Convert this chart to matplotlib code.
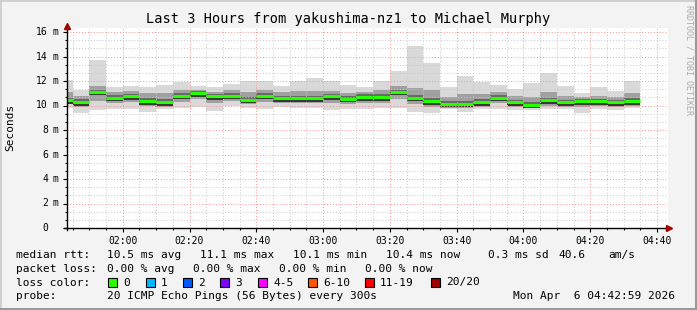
import matplotlib
matplotlib.use("Agg")
import matplotlib.pyplot as plt
import matplotlib.transforms as mtransforms
from matplotlib.lines import Line2D
from matplotlib.patches import Rectangle
from matplotlib.ticker import MultipleLocator
import numpy as np

# ---- data (ms), one entry per 5 minute step, first step is partial ----
median = [10.45, 10.30, 11.12, 10.63, 10.74, 10.38, 10.30, 10.80, 10.98, 10.74,
          10.80, 10.47, 10.80, 10.60, 10.60, 10.60, 10.74, 10.55, 10.68, 10.68,
          11.12, 10.63, 10.38, 10.14, 10.14, 10.30, 10.63, 10.25, 10.08, 10.41,
          10.25, 10.36, 10.36, 10.25, 10.38]
smoke_max = [12.10, 11.30, 13.73, 11.50, 11.60, 11.55, 11.70, 11.90, 11.60, 11.50,
             11.77, 12.04, 11.96, 11.60, 12.04, 12.26, 12.04, 11.70, 11.47, 12.00,
             12.83, 14.87, 13.50, 11.50, 12.43, 11.90, 11.70, 11.34, 11.83, 12.64,
             11.60, 11.06, 11.53, 11.20, 11.96]
smoke_min = [9.80, 9.40, 9.60, 9.70, 9.75, 9.50, 9.70, 9.80, 9.90, 9.57,
             10.00, 9.80, 9.70, 9.90, 9.80, 9.80, 9.60, 9.70, 9.70, 9.80,
             9.80, 9.50, 9.40, 9.70, 9.50, 9.70, 9.70, 9.60, 9.60, 9.70,
             9.70, 9.40, 9.70, 9.60, 9.80]
smoke_p80 = [11.1, 10.8, 11.6, 11.1, 11.2, 11.0, 11.0, 11.3, 11.3, 11.1,
             11.3, 11.1, 11.3, 11.1, 11.2, 11.2, 11.2, 11.0, 11.1, 11.3,
             11.6, 11.4, 11.3, 10.7, 10.9, 10.9, 11.1, 10.8, 10.7, 11.1,
             10.8, 10.7, 10.8, 10.7, 11.0]
smoke_p20 = [10.1, 9.9, 10.4, 10.2, 10.3, 10.0, 9.9, 10.3, 10.5, 10.2,
             10.4, 10.1, 10.3, 10.2, 10.2, 10.2, 10.2, 10.1, 10.2, 10.2,
             10.5, 10.1, 9.9, 9.8, 9.8, 9.9, 10.2, 9.9, 9.8, 10.0,
             9.9, 9.9, 10.0, 9.9, 10.0]
smoke_p60 = [10.65, 10.50, 11.30, 10.85, 10.95, 10.60, 10.50, 11.00, 11.15, 10.95,
             11.00, 10.70, 11.00, 10.80, 10.80, 10.80, 10.95, 10.75, 10.90, 10.90,
             11.30, 10.85, 10.60, 10.35, 10.35, 10.50, 10.85, 10.45, 10.30, 10.60,
             10.45, 10.55, 10.55, 10.45, 10.60]
smoke_p40 = [10.30, 10.15, 10.90, 10.45, 10.55, 10.20, 10.15, 10.60, 10.80, 10.55,
             10.60, 10.30, 10.60, 10.40, 10.40, 10.40, 10.55, 10.35, 10.50, 10.50,
             10.90, 10.40, 10.15, 9.95, 9.95, 10.10, 10.45, 10.05, 9.90, 10.20,
             10.05, 10.15, 10.20, 10.05, 10.20]

time_labels = ["02:00", "02:20", "02:40", "03:00", "03:20", "03:40", "04:00", "04:20", "04:40"]
loss_names = ["0", "1", "2", "3", "4-5", "6-10", "11-19", "20/20"]
loss_colors = ["#26ff00", "#00b8ff", "#0059ff", "#7e00ff", "#ff00ff", "#ff5500", "#ff0000", "#a10000"]

W, H = 697, 310
MONO = "DejaVu Sans Mono"
plt.rcParams["font.family"] = MONO

fig = plt.figure(figsize=(W / 100, H / 100), dpi=100, facecolor="#f3f3f3")


def fx(px):
    return px / W


def fy(py):
    return 1 - py / H


# plot area 67..668 x 28..228 px
ax = fig.add_axes([fx(67), fy(228), fx(668) - fx(67), (228 - 28) / H])
ax.set_facecolor("white")
t0, t1 = 103.3, 283.3  # minutes since midnight
ax.set_xlim(t0, t1)
ax.set_ylim(0, 200 / 12.25)

# bar edges: first partial step, then 5 minute steps
n = len(median)
left = np.concatenate([[t0], 105 + 5 * np.arange(n - 1)])
right = np.concatenate([[105], 110 + 5 * np.arange(n - 1)])
width = right - left
med = np.array(median)

bands = [(smoke_min, smoke_max, "#d9d9d9"),
         (smoke_p20, smoke_p80, "#a0a0a0"),
         (smoke_p40, smoke_p60, "#686868")]
for lo, hi, col in bands:
    lo = np.array(lo)
    hi = np.array(hi)
    ax.bar(left, hi - lo, bottom=lo, width=width, align="edge", color=col,
           linewidth=0, zorder=1)
# darkest core just under the median
ax.bar(left, 0.3, bottom=med - 0.3, width=width, align="edge",
       color="#383838", linewidth=0, zorder=1.2)

ax.hlines(median, left, right, colors=loss_colors[0], linewidth=2.2, zorder=4)

# grid
ax.xaxis.set_major_locator(plt.FixedLocator(np.arange(120, 281, 20)))
ax.xaxis.set_minor_locator(MultipleLocator(5))
ax.yaxis.set_major_locator(MultipleLocator(2))
ax.yaxis.set_minor_locator(MultipleLocator(2 / 3))
ax.set_axisbelow(False)
ax.grid(which="minor", color="#c8c8c8", linestyle=(0, (1, 2)), linewidth=0.7, zorder=2)
ax.grid(which="major", color="#ff9090", linestyle=(0, (1, 2)), linewidth=0.7, zorder=2.5)

for s in ax.spines.values():
    s.set_visible(False)
ax.tick_params(which="both", direction="out", color="black", width=0.8)
ax.tick_params(which="major", length=3)
ax.tick_params(which="minor", length=1.5)
ax.set_xticklabels(time_labels, fontsize=7, family=MONO)
ax.tick_params(axis="x", pad=2.5)
ax.set_yticklabels([])

ytr = mtransforms.blended_transform_factory(fig.transFigure, ax.transData)
for v in range(0, 17, 2):
    ax.text(fx(48), v, str(v), transform=ytr, ha="right", va="center", fontsize=7)
    if v:
        ax.text(fx(53), v, "m", transform=ytr, ha="left", va="center", fontsize=7)

# axes lines with arrow heads
fig.add_artist(Line2D([fx(67), fx(67)], [fy(230), fy(26)], color="black", lw=1,
                      transform=fig.transFigure))
fig.add_artist(Line2D([fx(64), fx(669)], [fy(228), fy(228)], color="black", lw=1,
                      transform=fig.transFigure))
fig.add_artist(Line2D([fx(67)], [fy(26)], marker="^", markersize=5, color="#a00000",
                      transform=fig.transFigure))
fig.add_artist(Line2D([fx(669)], [fy(228)], marker=">", markersize=5, color="#a00000",
                      transform=fig.transFigure))

# title, axis label, watermark
fig.text(fx(348), fy(19), "Last 3 Hours from yakushima-nz1 to Michael Murphy",
         ha="center", va="center", fontsize=9.8)
fig.text(fx(10), fy(127), "Seconds", rotation=90, ha="center", va="center", fontsize=8)
fig.text(fx(688.5), fy(5), "RRDTOOL / TOBI OETIKER", rotation=-90, ha="center",
         va="top", fontsize=6, color="#aaaaaa")

# legend block
fs = 8
rows = [
    (255, [(16, "median rtt:"), (107, "10.5 ms avg"), (200, "11.1 ms max"),
           (293, "10.1 ms min"), (386, "10.4 ms now"), (488, "0.3 ms sd"),
           (558, "40.6"), (608, "am/s")]),
    (268.5, [(16, "packet loss:"), (107, "0.00 % avg"), (193, "0.00 % max"),
             (279, "0.00 % min"), (365, "0.00 % now")]),
    (296, [(16, "probe:"), (107, "20 ICMP Echo Pings (56 Bytes) every 300s"),
           (513, "Mon Apr  6 04:42:59 2026")]),
]
for yy, items in rows:
    for xx, s in items:
        fig.text(fx(xx), fy(yy), s, ha="left", va="center", fontsize=fs)

fig.text(fx(16), fy(282.5), "loss color:", ha="left", va="center", fontsize=fs)
box_x = [108, 146, 183, 220, 258, 308, 365, 431]
for bx, name, col in zip(box_x, loss_names, loss_colors):
    fig.add_artist(Rectangle((fx(bx), fy(287)), fx(9), 9 / H, facecolor=col,
                             edgecolor="black", linewidth=0.8, transform=fig.transFigure))
    fig.text(fx(bx + 15), fy(282.5), name, ha="left", va="center", fontsize=fs)

# image frame
fig.add_artist(Rectangle((0, 0), 1, 1, fill=False, edgecolor="#cfcfcf", linewidth=2,
                         transform=fig.transFigure))
fig.add_artist(Line2D([0, 1], [fy(308.5), fy(308.5)], color="#9a9a9a", lw=2.2,
                      transform=fig.transFigure))
fig.add_artist(Line2D([fx(695.5), fx(695.5)], [0, 1], color="#9a9a9a", lw=1.5,
                      transform=fig.transFigure))

fig.savefig("out.png", dpi=100, facecolor=fig.get_facecolor())
